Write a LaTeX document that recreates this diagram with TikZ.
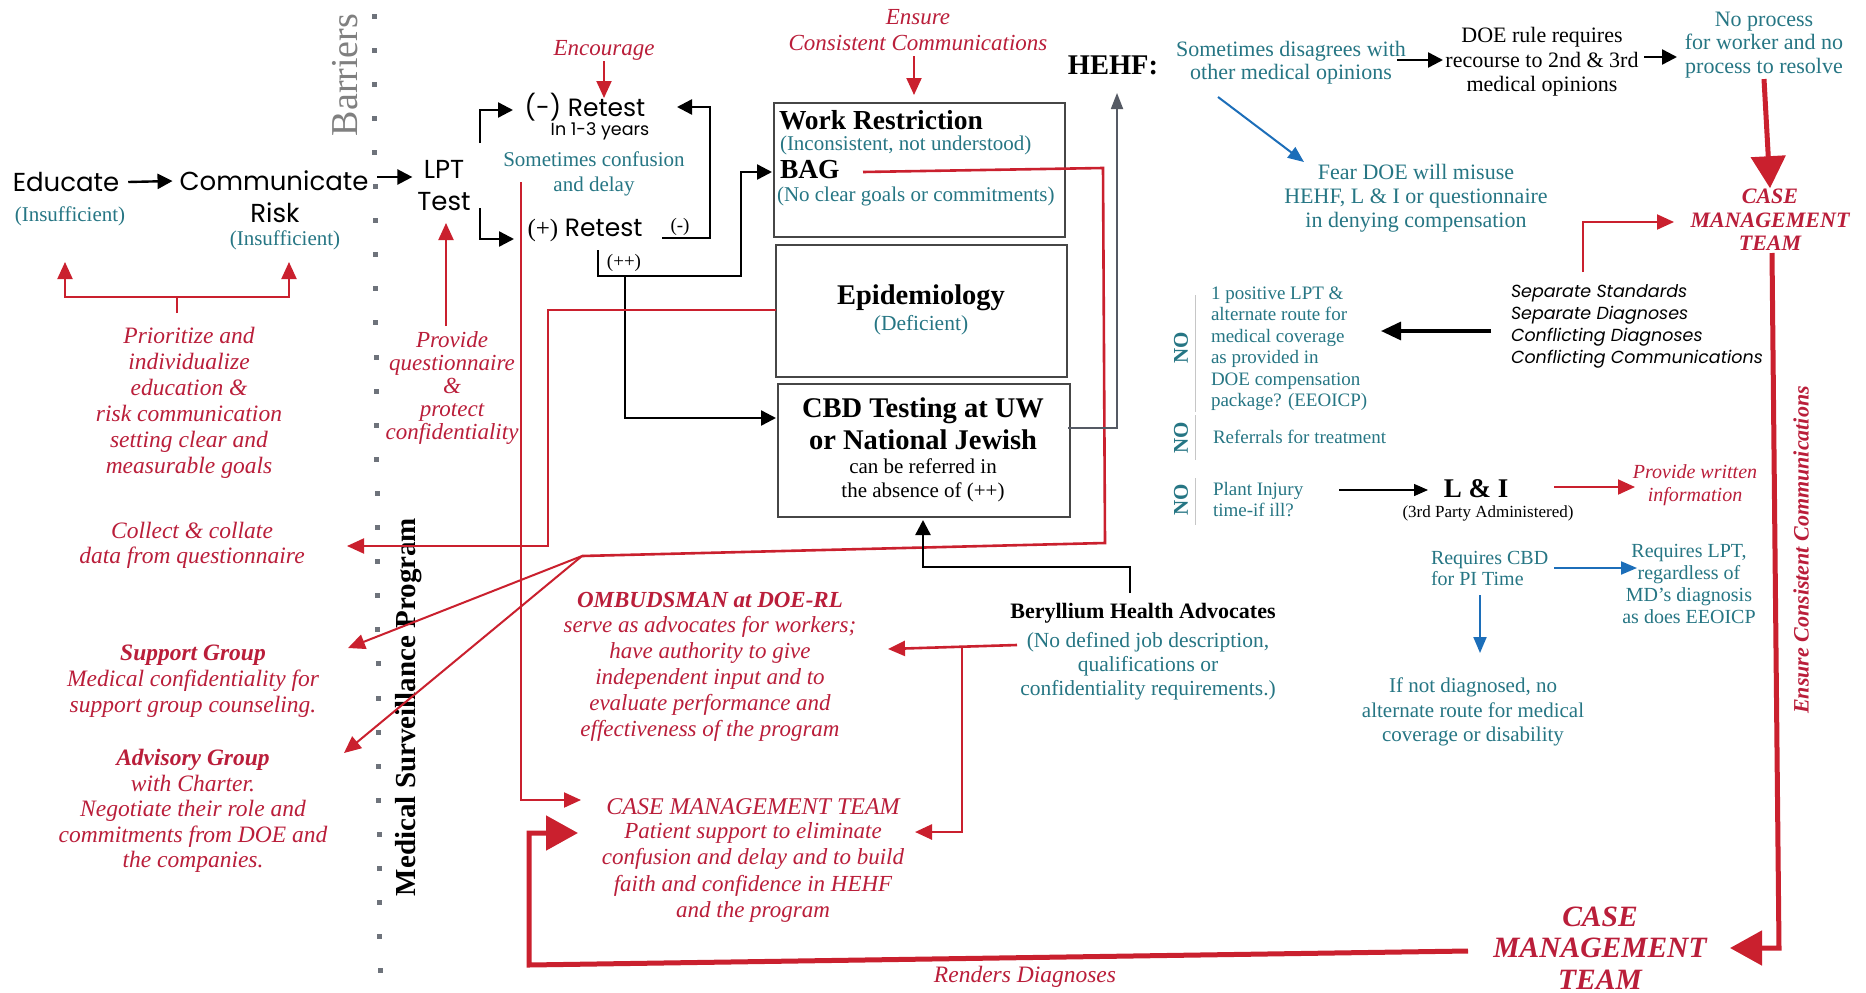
\documentclass[tikz,border=0pt]{standalone}
\usepackage{fontspec}
\setmainfont{Liberation Serif}
\newfontfamily\gothic{Poppins}
\usetikzlibrary{arrows.meta,calc}
\definecolor{cred}{RGB}{202,32,46}
\definecolor{tred}{RGB}{186,30,58}
\definecolor{cteal}{RGB}{38,118,132}
\definecolor{cblue}{RGB}{28,110,185}
\definecolor{cgray}{RGB}{85,90,100}
\newcommand{\fsz}[2]{\fontsize{#1}{#2}\selectfont}
\begin{document}
\begin{tikzpicture}[x=1pt,y=-1pt,
  every node/.style={inner sep=1pt,outer sep=0pt},
  blk/.style={draw=black,line width=2.4pt,-{Triangle[length=15pt,width=15pt]}},
  blkthin/.style={draw=black,line width=1.4pt,-{Triangle[length=14pt,width=12pt]}},
  rln/.style={draw=cred,line width=2pt},
  rarr/.style={rln,-{Triangle[length=17pt,width=15pt]}},
  rbig/.style={draw=cred,line width=5pt,-{Triangle[length=32pt,width=34pt]}},
  barr/.style={draw=cblue,line width=2pt,-{Triangle[length=16pt,width=13pt]}},
  garr/.style={draw=cgray,line width=1.8pt,-{Triangle[length=16pt,width=12pt]}},
  boxst/.style={draw=gray!55!black,line width=1.6pt},
  nol/.style={draw=gray!45,line width=1pt},
  teal/.style={text=cteal},
  redt/.style={text=tred}
]
\useasboundingbox (0,0) rectangle (1866,993);
\fill[white] (0,0) rectangle (1866,993);

% barrier dots
\foreach \k in {0,...,28} \fill[cgray!85] ({371.5+6*\k/28},{13.5+34.1*\k}) rectangle ++(5,5);

% ---------- left column ----------
\node[font=\gothic\fsz{26}{30}] (edu) at (66,182) {Educate};
\node[font=\fsz{21}{24},teal] (eduI) at (70,216) {(Insufficient)};
\node[font=\gothic\fsz{26}{30}] (comm) at (274,181) {Communicate};
\node[font=\gothic\fsz{26}{30}] (risk) at (275,213) {Risk};
\node[font=\fsz{21}{24},teal] (commI) at (285,240) {(Insufficient)};
\node[font=\gothic\fsz{26}{32},align=center] (lpt) at (444,186) {LPT\\Test};

\node[font=\itshape\fsz{23.5}{26},redt,align=center] (prio) at (189,403) {Prioritize and\\individualize\\education \&\\risk communication\\setting clear and\\measurable goals};
\node[font=\itshape\fsz{23}{23.2},redt,align=center] (pq) at (452,388) {Provide\\questionnaire\\\&\\protect\\confidentiality};
\node[font=\itshape\fsz{23.5}{25},redt,align=center] (coll) at (192,545.5) {Collect \& collate\\data from questionnaire};
\node[font=\itshape\fsz{23.5}{26},redt,align=center] (supp) at (193,681) {\textbf{Support Group}\\Medical confidentiality for\\support group counseling.};
\node[font=\itshape\fsz{23.5}{25.5},redt,align=center] (adv) at (193,811) {\textbf{Advisory Group}\\with Charter.\\Negotiate their role and\\commitments from DOE and\\the companies.};
\node[font=\bfseries\fsz{29}{30},rotate=90] (msp) at (409,707) {Medical Surveillance Program};
\node[font=\fsz{38}{40},text=gray,rotate=90] (barr) at (345,75) {Barriers};

% ---------- retest area ----------
\node[font=\gothic\fsz{25}{28}] (retN) at (585,107) {(-) Retest};
\node[font=\gothic\fsz{17.5}{20}] (yrs) at (600,131) {In 1-3 years};
\node[font=\fsz{21}{25},teal,align=center] (conf) at (594,174) {Sometimes confusion\\and delay};
\node[font=\gothic\fsz{25}{28}] (retP) at (585,230) {{\rmfamily(+)} Retest};
\node[font=\fsz{19}{22}] (neg) at (680,227) {(-)};
\node[font=\fsz{19}{22}] (pp) at (624,263) {(++)};
\node[font=\itshape\fsz{23}{26},redt] (enc) at (604,50) {Encourage};
\node[font=\itshape\fsz{23}{26},redt,align=center] (ens) at (918,30) {Ensure\\Consistent Communications};

% ---------- boxes ----------
\node[boxst,minimum width=291pt,minimum height=134pt] (box1) at (919.5,170) {};
\node[boxst,minimum width=291pt,minimum height=132pt] (box2) at (921.5,311) {};
\node[boxst,minimum width=292pt,minimum height=133pt] (box3) at (924,450.5) {};
\node[font=\bfseries\fsz{27.5}{30},anchor=west] (wr) at (778,120) {Work Restriction};
\node[font=\fsz{21}{24},teal,anchor=west] (wrI) at (779,145) {(Inconsistent, not understood)};
\node[font=\bfseries\fsz{27.5}{30},anchor=west] (bag) at (779,170) {BAG};
\node[font=\fsz{21}{24},teal,anchor=west] (bagI) at (776,196) {(No clear goals or commitments)};
\node[font=\bfseries\fsz{28.5}{30}] (epi) at (921,298) {Epidemiology};
\node[font=\fsz{21.5}{24},teal] (epiI) at (921,325) {(Deficient)};
\node[font=\bfseries\fsz{28.5}{32},align=center] (cbd) at (923,424) {CBD Testing at UW\\or National Jewish};
\node[font=\fsz{21}{24},align=center] (cbdT) at (923,480) {can be referred in\\the absence of (++)};

% ---------- right side ----------
\node[font=\bfseries\fsz{28.5}{30}] (hehf) at (1113,65) {HEHF:};
\node[font=\fsz{22}{23},teal,align=center] (dis) at (1291,63) {Sometimes disagrees with\\other medical opinions};
\node[font=\fsz{22}{24.5},align=center] (doe) at (1542,62) {DOE rule requires\\recourse to 2nd \& 3rd\\medical opinions};
\node[font=\fsz{22}{23.5},teal,align=center] (nop) at (1764,45) {No process\\for worker and no\\process to resolve};
\node[font=\bfseries\itshape\fsz{22}{23.5},redt,align=center] (cm1) at (1770,220) {CASE\\MANAGEMENT\\TEAM};
\node[font=\fsz{22}{24},teal,align=center] (fear) at (1416,198) {Fear DOE will misuse\\HEHF, L \& I or questionnaire\\in denying compensation};
\node[font=\gothic\itshape\fsz{17.5}{22},align=left,anchor=west] (seps) at (1510,326) {Separate Standards\\Separate Diagnoses\\Conflicting Diagnoses\\Conflicting Communications};
\node[font=\fsz{19}{21.5},teal,align=left,anchor=west] (pos) at (1210,348.5) {1 positive LPT \&\\alternate route for\\medical coverage\\as provided in\\DOE compensation\\package? (EEOICP)};
\node[font=\bfseries\fsz{21}{22},teal,rotate=90] (no1) at (1181,348) {NO};
\node[font=\bfseries\fsz{21}{22},teal,rotate=90] (no2) at (1181,438) {NO};
\node[font=\bfseries\fsz{21}{22},teal,rotate=90] (no3) at (1181,500) {NO};
\node[font=\fsz{19}{21},teal,anchor=west] (refr) at (1212,437) {Referrals for treatment};
\node[font=\fsz{19}{21},teal,anchor=west,align=left] (plant) at (1212,500) {Plant Injury\\time-if ill?};
\node[font=\bfseries\fsz{27}{28}] (li) at (1476,489) {L \& I};
\node[font=\fsz{17}{19}] (li3) at (1488,513) {(3rd Party Administered)};
\node[font=\itshape\fsz{20}{23},redt,align=center] (prov) at (1695,485) {Provide written\\information};
\node[font=\fsz{20}{21},teal,anchor=west,align=left] (rcbd) at (1430,568) {Requires CBD\\for PI Time};
\node[font=\fsz{20}{21.7},teal,align=center] (rlpt) at (1689,584) {Requires LPT,\\regardless of\\MD’s diagnosis\\as does EEOICP};
\node[font=\fsz{21}{24.5},teal,align=center] (ifn) at (1473,712) {If not diagnosed, no\\alternate route for medical\\coverage or disability};
\node[font=\bfseries\itshape\fsz{22}{24},redt,rotate=90] (ensR) at (1801,550) {Ensure Consistent Communications};
\node[font=\bfseries\fsz{22}{24}] (bha) at (1143,613) {Beryllium Health Advocates};
\node[font=\fsz{21.5}{24},teal,align=center] (bhaI) at (1148,666) {(No defined job description,\\qualifications or\\confidentiality requirements.)};

% ---------- bottom centre ----------
\node[font=\bfseries\itshape\fsz{23}{26},redt] (omb) at (710,600) {OMBUDSMAN at DOE-RL};
\node[font=\itshape\fsz{23}{26},redt,align=center] (ombT) at (710,679) {serve as advocates for workers;\\have authority to give\\independent input and to\\evaluate performance and\\effectiveness of the program};
\node[font=\itshape\fsz{24}{26},redt] (cm2) at (753,807) {CASE MANAGEMENT TEAM};
\node[font=\itshape\fsz{23}{26.3},redt,align=center] (cm2T) at (753,872.5) {Patient support to eliminate\\confusion and delay and to build\\faith and confidence in HEHF\\and the program};
\node[font=\bfseries\itshape\fsz{29.5}{31.5},redt,align=center] (cm3) at (1600,948) {CASE\\MANAGEMENT\\TEAM};
\node[font=\itshape\fsz{23.5}{26},redt] (rend) at (1025,977) {Renders Diagnoses};

% ---------- coordinates ----------
\coordinate (jR) at (177,297);
\coordinate (jR2) at (177,313);
\coordinate (tE) at (65,262);
\coordinate (tC) at (289,262);
\coordinate (pqTop) at (446,326);
\coordinate (lptTip) at (446,223);
\coordinate (lu1) at (480,143);
\coordinate (lu2) at (513,110);
\coordinate (ld1) at (480,208);
\coordinate (ld2) at (514,239);
\coordinate (lp1) at (662,238);
\coordinate (lp2) at (710,238);
\coordinate (lp3) at (710,107);
\coordinate (lp4) at (677,107);
\coordinate (pb1) at (598,250);
\coordinate (pb2) at (741,276);
\coordinate (pb3) at (772,172);
\coordinate (pd1) at (625,276);
\coordinate (pd2) at (776,418);
\coordinate (rv1) at (521,182);
\coordinate (rv2) at (581,800);
\coordinate (bg1) at (863,172);
\coordinate (bg2) at (1103,168);
\coordinate (bg3) at (1105,543);
\coordinate (bg4) at (582,556);
\coordinate (suppTip) at (348,648);
\coordinate (advTip) at (344,753);
\coordinate (ep1) at (548,310);
\coordinate (ep2) at (548,546);
\coordinate (collTip) at (347,546);
\coordinate (bh1) at (1130,593);
\coordinate (bh2) at (923,567);
\coordinate (bh3) at (923,520);
\coordinate (cg1) at (1068,428);
\coordinate (cg2) at (1117,428);
\coordinate (cg3) at (1117,93);
\coordinate (br1) at (1017,645);
\coordinate (br2) at (888,649);
\coordinate (br3) at (962,647);
\coordinate (br4) at (915,832);
\coordinate (sp1) at (1583,272);
\coordinate (sp2) at (1674,222);
\coordinate (rr1) at (1772,253);
\coordinate (rr2) at (1779,948);
\coordinate (rr3) at (1730,948);
\coordinate (bt1) at (1468,951);
\coordinate (bt2) at (529,965);
\coordinate (bt3) at (529,833);
\coordinate (bt4) at (578,833);

% ---------- connectors ----------
\draw[blk] ([xshift=8pt]edu.east) -- ([xshift=-6pt]comm.west);
\draw[blk] ($(comm.east)+(8,-4)$) -- ($(lpt.west |- comm.east)+(-4,-4)$);
\draw[rln] (jR2) -- (jR);
\draw[rarr] (jR) -| (tE);
\draw[rarr] (jR) -| (tC);
\draw[rarr] (pqTop) -- (lptTip);
\draw[blk] (lu1) |- (lu2);
\draw[blk] (ld1) |- (ld2);
\draw[blk] (lp1) -- (lp2) -- (lp3) -- (lp4);
\draw[blk] (pb1) |- (pb2) |- (pb3);
\draw[blk] (pd1) |- (pd2);
\draw[rarr] (rv1) |- (rv2);
\draw[rln,line width=2.6pt] (bg1) -- (bg2) -- (bg3) -- (bg4);
\draw[rarr] (bg4) -- (suppTip);
\draw[rarr] (bg4) -- (advTip);
\draw[rarr] (box2.west |- ep1) -- (ep1) -- (ep2) -- (collTip);
\draw[blk] (bh1) |- (bh2) -- (bh3);
\draw[garr] (cg1) -- (cg2) -- (cg3);
\draw[rarr,line width=2.6pt] (br1) -- (br2);
\draw[rarr,line width=2.6pt] (br3) |- (br4);
\draw[blk] (1397,60) coordinate (d1) -- (1443,60) coordinate (d2);
\draw[blk] (1644,57) coordinate (d3) -- (1677,57) coordinate (d4);
\draw[barr] (1218,97) coordinate (f1) -- (1304,162) coordinate (f2);
\draw[rbig] (nop.south) -- (cm1.north);
\draw[rarr] (sp1) |- (sp2);
\draw[draw=black,line width=3.2pt,-{Triangle[length=20pt,width=18pt]}] (1491,331) coordinate (s1) -- (1381,331) coordinate (s2);
\draw[blkthin] (1339,490) coordinate (pl1) -- (1428,490) coordinate (pl2);
\draw[rarr] (1554,487) coordinate (l1) -- (1635,487) coordinate (l2);
\draw[barr] (1554,568) coordinate (q1) -- (1637,568) coordinate (q2);
\draw[barr] (1480,595) coordinate (q3) -- (1480,653) coordinate (q4);
\draw[rbig] (rr1) -- (rr2) -- (rr3);
\draw[rbig] (bt1) -- (bt2) -- (bt3) -- (bt4);
\draw[rarr] (604,61) coordinate (e1) -- (604,98) coordinate (e2);
\draw[rarr] (914,56) coordinate (e3) -- (914,95) coordinate (e4);

% NO separators
\draw[nol] (1195,295) -- (1195,412);
\draw[nol] (1195,415) -- (1195,460);
\draw[nol] (1195,478) -- (1195,525);
\end{tikzpicture}
\end{document}
